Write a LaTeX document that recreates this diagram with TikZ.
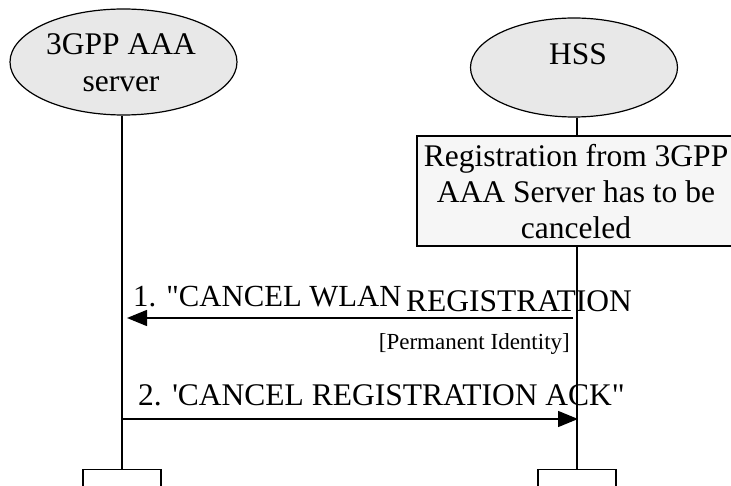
\documentclass[tikz,border=0pt]{standalone}
\usepackage{fontspec}
\setmainfont{Liberation Serif}[Ligatures=TeXOff]
\usetikzlibrary{shapes.geometric,arrows.meta}
\definecolor{actorfill}{HTML}{E8E8E8}
\definecolor{notefill}{HTML}{F6F6F6}
\tikzset{
  x=1pt, y=-1pt,
  actor/.style={draw, line width=1.2pt, ellipse, fill=actorfill, inner sep=0pt},
  notebox/.style={draw, line width=1.2pt, fill=notefill, inner sep=0pt},
  endbox/.style={draw, line width=1.2pt, fill=white, inner sep=0pt, anchor=north},
  lifeline/.style={line width=1.2pt},
  msg/.style={line width=1.5pt, -{Triangle[length=20pt,width=16pt]}},
  bigtxt/.style={inner sep=0pt, font=\fontsize{31.5}{36}\selectfont, align=center},
  smalltxt/.style={inner sep=0pt, font=\fontsize{23}{26}\selectfont},
}
\begin{document}
\begin{tikzpicture}
\useasboundingbox (0,0) rectangle (731,486);
% actors
\node[actor, minimum width=227pt, minimum height=106pt] (aaa) at (123.5,62) {};
\node[bigtxt, anchor=base, font=\fontsize{31.5}{37}\selectfont] (aaaText) at (121,92) {3GPP AAA\\server};
\node[actor, minimum width=207pt, minimum height=99pt] (hss) at (574,67.5) {};
\node[bigtxt, anchor=base] (hssText) at (578,65) {HSS};
% note box
\node[notebox, minimum width=320pt, minimum height=110pt] (note) at (577,191) {};
\node[bigtxt, anchor=base] (noteText) at (576,239) {Registration from 3GPP\\AAA Server has to be\\canceled};
% bottom boxes
\node[endbox, minimum width=78pt, minimum height=40pt] (aaaBot) at (122,469) {};
\node[endbox, minimum width=78pt, minimum height=40pt] (hssBot) at (577,469) {};
% lifelines
\draw[lifeline] (aaaBot.north |- aaa.south) -- (aaaBot.north);
\draw[lifeline] (hssBot.north |- hss.south) -- (hssBot.north |- note.north);
\draw[lifeline] (hssBot.north |- note.south) -- (hssBot.north);
% messages
\coordinate (m1from) at (573,318);
\coordinate (m1to) at (127,318);
\draw[msg] (m1from) -- (m1to);
\node[bigtxt, anchor=base west, font=\fontsize{30.7}{36}\selectfont] (m1a) at (133,307) {1. "CANCEL WLAN};
\node[bigtxt, anchor=base west] (m1b) at (406,312) {REGISTRATION};
\node[smalltxt, anchor=base east] (m1c) at (570,349) {[Permanent Identity]};
\coordinate (m2from) at (122,419);
\coordinate (m2to) at (578,419);
\draw[msg] (m2from) -- (m2to);
\node[bigtxt, anchor=base west] (m2a) at (138,405) {2. 'CANCEL REGISTRATION ACK"};
\end{tikzpicture}
\end{document}
